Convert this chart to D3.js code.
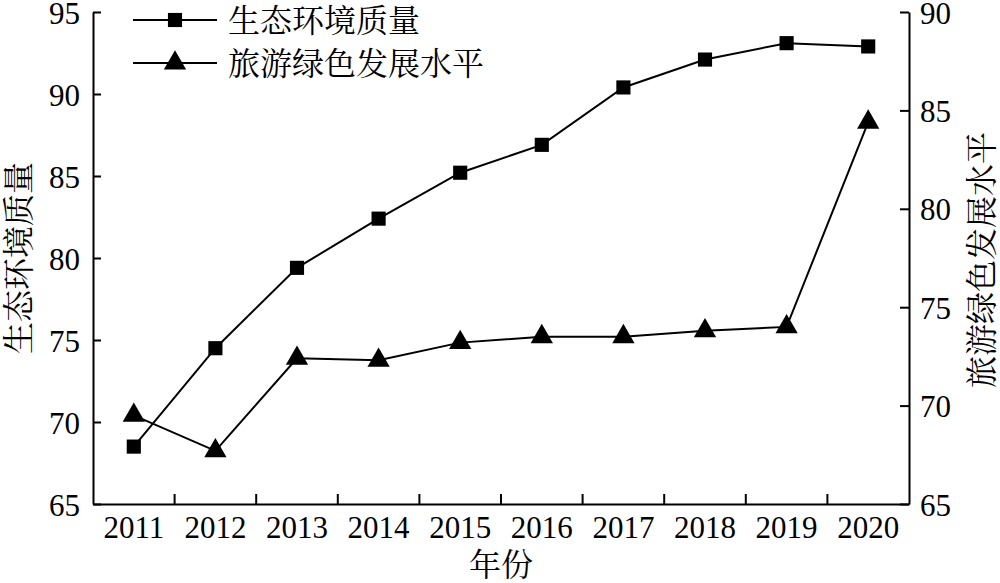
<!DOCTYPE html>
<html><head><meta charset="utf-8">
<script src="https://cdn.jsdelivr.net/npm/d3@7"></script>
<style>body{margin:0;background:#fff}svg{display:block}</style>
</head><body>
<script>
const years = ["2011","2012","2013","2014","2015","2016","2017","2018","2019","2020"];
const ecoQuality = [68.5, 74.5, 79.4, 82.4, 85.2, 86.9, 90.4, 92.1, 93.1, 92.9];
const greenTourism = [69.5, 67.7, 72.4, 72.3, 73.2, 73.5, 73.5, 73.8, 74.0, 84.4];
const leftTicks = [65, 70, 75, 80, 85, 90, 95];
const rightTicks = [65, 70, 75, 80, 85, 90];
const seriesNames = ["生态环境质量", "旅游绿色发展水平"];
const axisTitles = {left: "生态环境质量", right: "旅游绿色发展水平", bottom: "年份"};

const W = 1000, H = 583;
const L = 93, R = 909, T = 12, B = 504;
const numFont = '"Liberation Serif","Times New Roman",serif';
const cjkFont = '"Liberation Serif","Noto Serif CJK SC","Noto Sans CJK SC",serif';

const svg = d3.select("body").append("svg").attr("width", W).attr("height", H);

const x = d3.scaleBand().domain(years).range([L, R]).padding(0);
const yL = d3.scaleLinear().domain([65, 95]).range([B, T]);
const yR = d3.scaleLinear().domain([65, 90]).range([B, T]);
const cx = d => x(d) + x.bandwidth() / 2;

// left axis
const gL = svg.append("g").attr("transform", `translate(${L},0)`)
  .call(d3.axisLeft(yL).tickValues(leftTicks).tickSizeInner(-8).tickSizeOuter(0).tickPadding(13));
// right axis
const gR = svg.append("g").attr("transform", `translate(${R},0)`)
  .call(d3.axisRight(yR).tickValues(rightTicks).tickSizeInner(-9).tickSizeOuter(0).tickPadding(11));
// bottom axis (labels centered in bands)
const gB = svg.append("g").attr("transform", `translate(0,${B})`)
  .call(d3.axisBottom(x).tickSize(0).tickPadding(12));
gB.selectAll(".tick line").remove();
// boundary ticks (inward)
gB.selectAll(".btick").data(years.slice(1)).enter().append("line")
  .attr("class", "btick")
  .attr("x1", d => x(d)).attr("x2", d => x(d))
  .attr("y1", 0).attr("y2", -10)
  .attr("stroke", "#000").attr("stroke-width", 2);

[gL, gR, gB].forEach(g => {
  g.select(".domain").attr("stroke", "#000").attr("stroke-width", 2);
  g.selectAll(".tick line").attr("stroke", "#000").attr("stroke-width", 2);
  g.selectAll(".tick text").attr("font-family", numFont).attr("font-size", 31).attr("fill", "#000");
});
gB.selectAll(".tick text").attr("dy", "0.71em");
gL.selectAll(".tick text").attr("dy", "0.36em");
gR.selectAll(".tick text").attr("dy", "0.36em");

// axis titles
svg.append("text").attr("transform", `translate(30,${(T+B)/2}) rotate(-90)`)
  .attr("text-anchor", "middle").attr("font-family", cjkFont).attr("font-size", 32)
  .attr("fill", "#000").text(axisTitles.left);
svg.append("text").attr("transform", `translate(993,${(T+B)/2+2}) rotate(-90)`)
  .attr("text-anchor", "middle").attr("font-family", cjkFont).attr("font-size", 32)
  .attr("fill", "#000").text(axisTitles.right);
svg.append("text").attr("x", (L+R)/2).attr("y", 576)
  .attr("text-anchor", "middle").attr("font-family", cjkFont).attr("font-size", 32)
  .attr("fill", "#000").text(axisTitles.bottom);

// lines
const line1 = d3.line().x((d, i) => cx(years[i])).y(d => yL(d));
const line2 = d3.line().x((d, i) => cx(years[i])).y(d => yR(d));
svg.append("path").attr("d", line1(ecoQuality)).attr("fill", "none").attr("stroke", "#000").attr("stroke-width", 2);
svg.append("path").attr("d", line2(greenTourism)).attr("fill", "none").attr("stroke", "#000").attr("stroke-width", 2);

const sq = d3.symbol().type(d3.symbolSquare).size(200);
const tri = d3.symbol().type(d3.symbolTriangle).size(215);
svg.selectAll(".sq").data(ecoQuality).enter().append("path")
  .attr("d", sq).attr("transform", (d, i) => `translate(${cx(years[i])},${yL(d)})`).attr("fill", "#000");
svg.selectAll(".tri").data(greenTourism).enter().append("path")
  .attr("d", tri).attr("transform", (d, i) => `translate(${cx(years[i])},${yR(d)})`).attr("fill", "#000");

// legend
const leg = [{name: seriesNames[0], sym: sq, y: 20}, {name: seriesNames[1], sym: tri, y: 63}];
leg.forEach(l => {
  svg.append("line").attr("x1", 133).attr("x2", 217).attr("y1", l.y).attr("y2", l.y)
    .attr("stroke", "#000").attr("stroke-width", 2);
  svg.append("path").attr("d", l.sym).attr("transform", `translate(175,${l.y})`).attr("fill", "#000");
  svg.append("text").attr("x", 228).attr("y", l.y).attr("dy", "0.36em")
    .attr("font-family", cjkFont).attr("font-size", 32).attr("fill", "#000").text(l.name);
});
</script>
</body></html>
